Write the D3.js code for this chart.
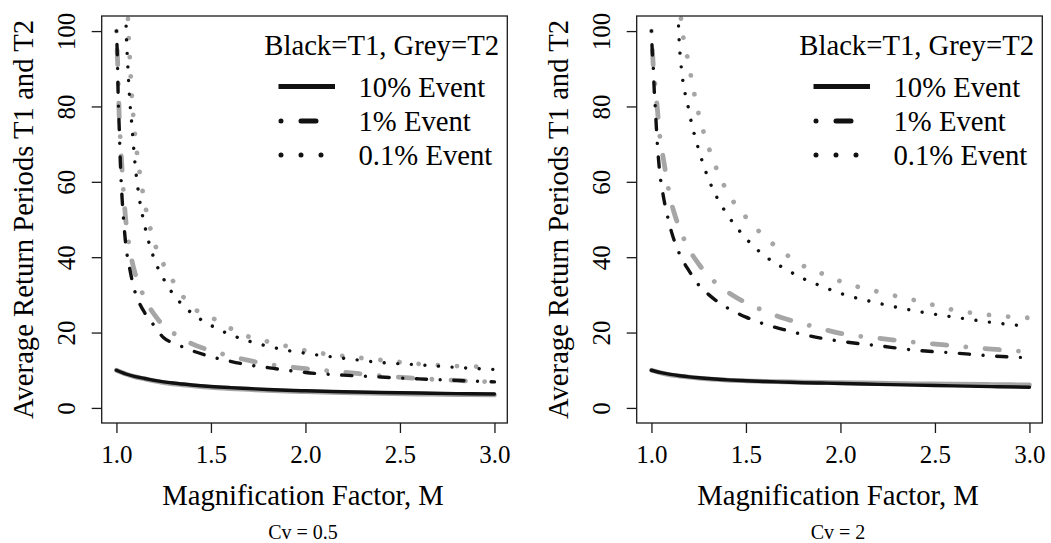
<!DOCTYPE html>
<html>
<head>
<meta charset="utf-8">
<script src="https://cdn.jsdelivr.net/npm/d3@7"></script>
<style>
  body { margin: 0; background: #fff; }
  svg { display: block; }
</style>
</head>
<body>
<svg id="chart" width="1051" height="543"></svg>
<script>
// ---------------- DATA ----------------
const M = [1.00, 1.005, 1.01, 1.015, 1.02, 1.03, 1.04, 1.05, 1.06, 1.07, 1.08, 1.10, 1.12, 1.15,
           1.20, 1.25, 1.30, 1.35, 1.40, 1.50, 1.60, 1.70, 1.80, 1.90, 2.00, 2.20, 2.40, 2.60, 2.80, 3.00];

// Cv = 0.5
const cv05_T1_10  = [10, null, null, null, null, null, null, 9.0, null, null, null, 8.3, null, 7.8,
                     7.3, 6.9, 6.6, 6.35, 6.1, 5.7, 5.4, 5.15, 4.9, 4.7, 4.55, 4.3, 4.1, 3.95, 3.8, 3.7];
const cv05_T2_10  = [10, null, null, null, null, null, null, 9.0, null, null, null, 8.25, null, 7.7,
                     7.15, 6.75, 6.4, 6.15, 5.9, 5.45, 5.15, 4.9, 4.65, 4.45, 4.3, 4.05, 3.85, 3.7, 3.55, 3.45];
const cv05_T1_1   = [100, 93, 81, 74, 66, 55.5, 48.5, 43, 39.5, 37, 34.5, 30.5, 28, 25.2,
                     21.8, 18.6, 17.2, 16.2, 15.2, 13.6, 12.4, 11.4, 10.7, 10.0, 9.4, 8.7, 8.2, 7.7, 7.3, 6.9];
const cv05_T2_1   = [100, 93.5, 86, 77, 72, 63, 55.5, 49.5, 45.5, 42.5, 39.5, 35.5, 32.7, 29.0,
                     24.8, 21.8, 19.9, 18.3, 17.0, 15.2, 13.8, 12.6, 11.6, 11.0, 10.4, 9.5, 8.5, 7.8, 7.3, 6.9];
const cv05_T1_01  = [1000, null, null, null, null, null, null, 104, 91, 82, 76, 64, 56, 48.3,
                     39.5, 34.2, 30.2, 27.3, 25.1, 21.9, 19.5, 17.75, 16.4, 15.3, 14.5, 13.2, 12.05, 11.45, 10.75, 10.2];
const cv05_T2_01  = [1000, null, null, null, null, null, null, null, 105.5, 93.5, 84, 71.5, 63.5, 54.3,
                     44.0, 38.0, 33.6, 29.7, 26.8, 24.1, 21.2, 18.9, 17.6, 16.4, 15.2, 13.8, 12.7, 11.7, 11.1, 10.9];

// Cv = 2
const cv2_T1_10   = [10, null, null, null, null, null, null, 9.35, null, null, null, 8.9, null, 8.55,
                     8.25, 8.0, 7.8, 7.6, 7.45, 7.2, 7.0, 6.85, 6.7, 6.6, 6.5, 6.25, 6.05, 5.85, 5.65, 5.5];
const cv2_T2_10   = [10, null, null, null, null, null, null, 9.3, null, null, null, 8.8, null, 8.45,
                     8.15, 7.9, 7.7, 7.55, 7.4, 7.2, 7.05, 6.95, 6.85, 6.75, 6.7, 6.55, 6.4, 6.3, 6.2, 6.1];
const cv2_T1_1    = [100, 94, 90, 84, 80, 71, 64.5, 60, 57, 54.3, 52, 47.8, 44.5, 40.7,
                     36.3, 32.6, 30.2, 28.2, 26.6, 24.1, 22.2, 20.8, 19.5, 18.5, 17.7, 16.5, 15.3, 14.6, 13.8, 13.3];
const cv2_T2_1    = [100, 95, 90.5, 88, 85.5, 80, 74.5, 69.5, 67, 64, 61, 55.5, 51.8, 47.5,
                     42, 38.2, 35.1, 32.8, 30.9, 27.9, 25.7, 23.8, 22.4, 21.0, 19.8, 18.5, 17.4, 16.5, 15.6, 14.9];
const cv2_T1_01   = [1000, null, null, null, null, null, null, null, null, null, null, null, null, 94.7,
                     78.5, 68.5, 61, 55.5, 51.4, 45, 40.3, 37.1, 34.4, 32.3, 30.4, 27.8, 25.7, 24.1, 22.7, 21.6];
const cv2_T2_01   = [1000, null, null, null, null, null, null, null, null, null, null, null, null, 107,
                     90.6, 78, 69.5, 62.8, 57.5, 50.6, 45.4, 41.2, 37.8, 35.7, 33.6, 30.8, 28.5, 26.0, 24.6, 23.9];

const xTicks = [1.0, 1.5, 2.0, 2.5, 3.0];
const yTicks = [0, 20, 40, 60, 80, 100];
const captions = ["Cv = 0.5", "Cv = 2"];
const legendTitle = "Black=T1, Grey=T2";
const legendLabels = ["10% Event", "1% Event", "0.1% Event"];
const xTitle = "Magnification Factor, M";
const yTitle = "Average Return Periods T1 and T2";

// ---------------- LAYOUT ----------------
const FONT = "'Liberation Serif', 'Times New Roman', Tinos, 'DejaVu Serif', 'Noto Serif', serif";
const svg = d3.select("#chart").style("font-family", FONT);
const BLACK = "#111", GREY = "#a6a6a6";
const LW_BLACK = 3.4, LW_GREY = 4.8, LW_LEG = 5;

function dashFor(type, lw) {
  if (type === "dotdash") return [0.001, 4 * lw, 3 * lw, 4 * lw].join(" ");
  if (type === "dotted") return [0.001, 4 * lw].join(" ");
  return null;
}
function styleText(sel, size) {
  return sel.style("font-family", FONT).attr("font-size", size).attr("fill", "#000");
}

const panels = [
  { off: 0, caption: captions[0],
    series: [
      { v: cv05_T2_10, c: GREY, lw: LW_GREY, t: "solid" },
      { v: cv05_T1_10, c: BLACK, lw: LW_BLACK, t: "solid" },
      { v: cv05_T2_1, c: GREY, lw: LW_GREY, t: "dotdash" },
      { v: cv05_T1_1, c: BLACK, lw: LW_BLACK, t: "dotdash" },
      { v: cv05_T2_01, c: GREY, lw: LW_GREY, t: "dotted" },
      { v: cv05_T1_01, c: BLACK, lw: LW_BLACK, t: "dotted" } ] },
  { off: 535, caption: captions[1],
    series: [
      { v: cv2_T2_10, c: GREY, lw: LW_GREY, t: "solid" },
      { v: cv2_T1_10, c: BLACK, lw: LW_BLACK, t: "solid" },
      { v: cv2_T2_1, c: GREY, lw: LW_GREY, t: "dotdash" },
      { v: cv2_T1_1, c: BLACK, lw: LW_BLACK, t: "dotdash" },
      { v: cv2_T2_01, c: GREY, lw: LW_GREY, t: "dotted" },
      { v: cv2_T1_01, c: BLACK, lw: LW_BLACK, t: "dotted" } ] }
];

const PX0 = 101.7, PX1 = 507.3, PY0 = 16, PY1 = 423;

panels.forEach((p, pi) => {
  const x0 = PX0 + p.off, x1 = PX1 + p.off;
  const x = d3.scaleLinear().domain([0.922, 3.068]).range([x0, x1]);
  const y = d3.scaleLinear().domain([-4, 104]).range([PY1, PY0]);
  const g = svg.append("g");

  const clipId = "clip" + pi;
  svg.append("clipPath").attr("id", clipId)
    .append("rect").attr("x", x0).attr("y", PY0).attr("width", x1 - x0).attr("height", PY1 - PY0);

  const line = d3.line().x(d => x(d[0])).y(d => y(d[1])).curve(d3.curveMonotoneX);
  const lg = g.append("g").attr("clip-path", `url(#${clipId})`);
  p.series.forEach(s => {
    const data = M.map((m, i) => [m, s.v[i]]).filter(d => d[1] != null);
    lg.append("path").datum(data)
      .attr("d", line)
      .attr("fill", "none")
      .attr("stroke", s.c)
      .attr("stroke-width", s.lw)
      .attr("stroke-linecap", "round")
      .attr("stroke-linejoin", "round")
      .attr("stroke-dasharray", dashFor(s.t, s.lw));
  });

  // box
  g.append("rect").attr("x", x0).attr("y", PY0).attr("width", x1 - x0).attr("height", PY1 - PY0)
    .attr("fill", "none").attr("stroke", "#1a1a1a").attr("stroke-width", 1.3);

  // x axis
  const ax = g.append("g").attr("transform", `translate(0,${PY1})`)
    .call(d3.axisBottom(x).tickValues(xTicks).tickSize(10).tickSizeOuter(0).tickPadding(12)
      .tickFormat(d3.format(".1f")));
  ax.attr("font-family", null).attr("font-size", null);
  ax.select(".domain").remove();
  ax.selectAll(".tick line").attr("stroke", "#1a1a1a").attr("stroke-width", 1.3);
  styleText(ax.selectAll(".tick text"), 25);

  // y axis
  const ay = g.append("g").attr("transform", `translate(${x0},0)`)
    .call(d3.axisLeft(y).tickValues(yTicks).tickSize(10).tickSizeOuter(0));
  ay.attr("font-family", null).attr("font-size", null);
  ay.select(".domain").remove();
  ay.selectAll(".tick line").attr("stroke", "#1a1a1a").attr("stroke-width", 1.3);
  styleText(ay.selectAll(".tick text"), 25)
    .attr("transform", "rotate(-90)")
    .attr("x", 0).attr("y", -26.7).attr("dy", 0)
    .attr("text-anchor", "middle");

  // axis titles
  const cx = (x0 + x1) / 2;
  styleText(g.append("text"), 28.7).attr("x", cx - 1.5).attr("y", 505).attr("text-anchor", "middle")
    .text(xTitle);
  styleText(g.append("text"), 28.7)
    .attr("transform", `translate(${33 + p.off},${(PY0 + PY1) / 2}) rotate(-90)`)
    .attr("text-anchor", "middle").text(yTitle);
  styleText(g.append("text"), 20).attr("x", cx - 1.5).attr("y", 538.5).attr("text-anchor", "middle")
    .text(p.caption);

  // legend
  const leg = g.append("g");
  styleText(leg.append("text"), 28.7).attr("x", 499 + p.off).attr("y", 54.5).attr("text-anchor", "end")
    .text(legendTitle);
  const rowsY = [86.5, 121, 155];
  const types = ["solid", "dotdash", "dotted"];
  const lx0 = 278.5 + p.off, lx1 = 335 + p.off;
  rowsY.forEach((ry, i) => {
    leg.append("path")
      .attr("d", d3.line()([[lx0, ry], [lx1, ry]]))
      .attr("stroke", BLACK).attr("stroke-width", LW_LEG).attr("fill", "none")
      .attr("stroke-linecap", types[i] === "solid" ? "butt" : "round")
      .attr("stroke-dasharray", dashFor(types[i], LW_LEG))
      .attr("stroke-dashoffset", types[i] === "solid" ? null : -LW_LEG / 2);
    styleText(leg.append("text"), 28.7).attr("x", 358.5 + p.off).attr("y", ry + 10)
      .text(legendLabels[i]);
  });
});
</script>
</body>
</html>
